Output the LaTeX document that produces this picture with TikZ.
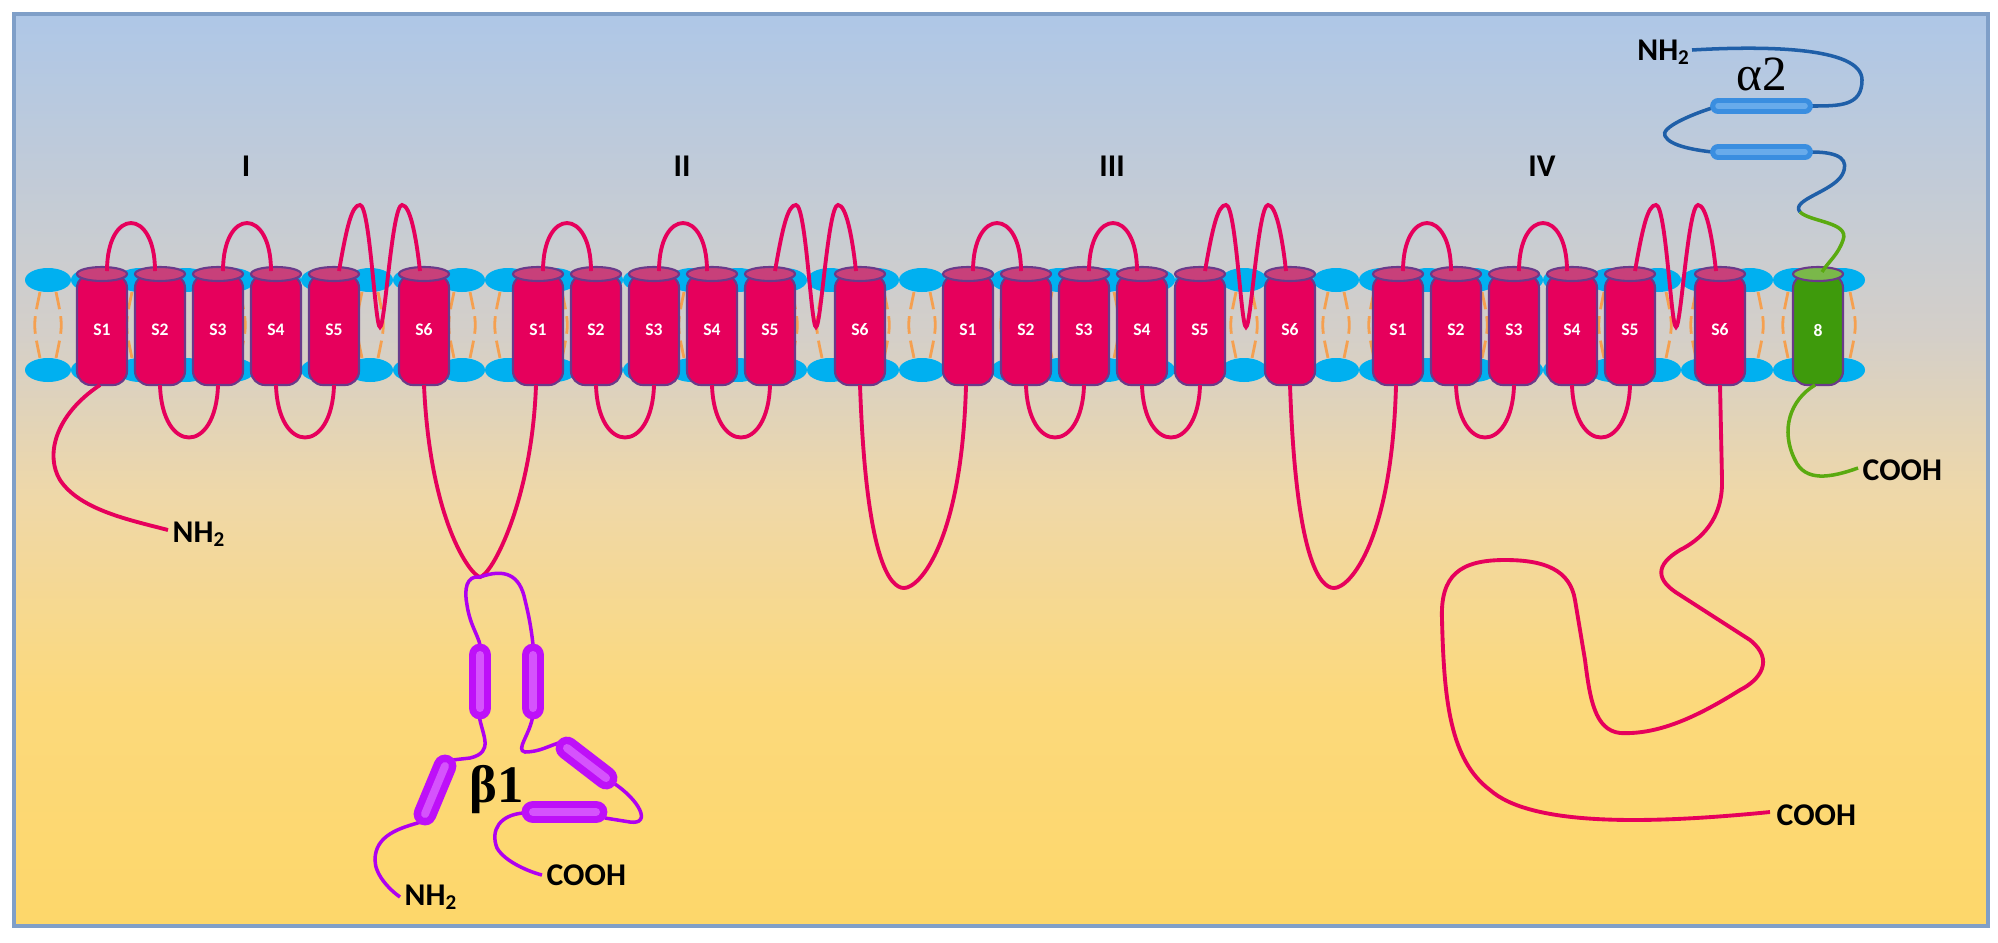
\documentclass[tikz,border=0pt]{standalone}
\usepackage{fontspec}
\newfontfamily\carl{Carlito}
\newfontfamily\grk{Liberation Serif}
\definecolor{bgbot}{HTML}{FDD76A}
\definecolor{bgb2}{HTML}{FCD97C}
\definecolor{bgm1}{HTML}{EFD8A8}
\definecolor{bgm2}{HTML}{D4CFC9}
\definecolor{bgtop}{HTML}{AEC7E7}
\definecolor{frm}{HTML}{7F9FC8}
\definecolor{mag}{HTML}{E6005C}
\definecolor{magcap}{HTML}{C8407A}
\definecolor{cylb}{HTML}{6A3A8A}
\definecolor{headc}{HTML}{00B0F0}
\definecolor{tailc}{HTML}{F5A050}
\definecolor{grn}{HTML}{3E9A0C}
\definecolor{grncap}{HTML}{7AB84A}
\definecolor{grnl}{HTML}{5AAA10}
\definecolor{blu}{HTML}{1F5FA8}
\definecolor{bluc}{HTML}{3A8EE0}
\definecolor{blul}{HTML}{7CB8F0}
\definecolor{pur}{HTML}{B000F0}
\definecolor{purc}{HTML}{BE10F8}
\definecolor{purl}{HTML}{E070FF}
\pgfdeclareverticalshading{bgsh}{100bp}{color(0bp)=(bgbot); color(25bp)=(bgbot); color(37.5bp)=(bgb2); color(48.5bp)=(bgm1); color(57.5bp)=(bgm2); color(75bp)=(bgtop); color(100bp)=(bgtop)}
\tikzset{
  chain/.style={draw=mag, line width=1.1pt},
  tailline/.style={draw=tailc, dashed, dash pattern=on 5pt off 2pt, line width=0.8pt},
  lbl/.style={text=white, font=\carl\bfseries\fontsize{5}{6}\selectfont},
  dom/.style={font=\carl\bfseries\fontsize{9}{10}\selectfont},
  term/.style={font=\carl\bfseries\fontsize{9}{10}\selectfont, inner sep=0pt},
  purl line/.style={draw=pur, line width=1pt},
  blue line/.style={draw=blu, line width=1pt},
  green line/.style={draw=grnl, line width=1pt},
}
\newcommand\cyl[4]{% x, label, fill, cap
  \draw[draw=cylb, fill=#3, line width=0.6pt, rounded corners=4] (#1-25,274) -- (#1-25,385) -- (#1+25,385) -- (#1+25,274) -- cycle;
  \draw[draw=cylb, fill=#4, line width=0.6pt] (#1,274) ellipse [x radius=25, y radius=7];
  \node[lbl] at (#1,330) {#2};}
\newcommand\capsule[5]{% from, to, fill, light, width
  \draw[#3, line width=#5, line cap=round] #1 -- #2;
  \draw[#4, line width=0.35*#5, line cap=round, opacity=0.7] #1 -- #2;}
\begin{document}
\begin{tikzpicture}[x=0.01cm,y=-0.01cm]
\useasboundingbox (0,0) rectangle (1998,942);
\shade[shading=bgsh] (14,14) rectangle (1988,926);
\draw[frm, line width=1.2pt] (14,14) rectangle (1988,926);
% lipid tails and heads
\foreach \x in {48,94,...,1870}{
  \draw[tailline] (\x-8,292) .. controls (\x-15,325) .. (\x-8,358);
  \draw[tailline] (\x+8,292) .. controls (\x+15,325) .. (\x+8,358);
}
\foreach \x in {48,94,...,1870}{
  \fill[headc] (\x,280) ellipse [x radius=23, y radius=12];
  \fill[headc] (\x,370) ellipse [x radius=23, y radius=12];
}
% domains
\foreach \o/\nm in {102/I,538/II,968/III,1398/IV}{
  \begin{scope}[shift={(\o,0)}]
    \cyl{0}{S1}{mag}{magcap}
    \cyl{58}{S2}{mag}{magcap}
    \cyl{116}{S3}{mag}{magcap}
    \cyl{174}{S4}{mag}{magcap}
    \cyl{232}{S5}{mag}{magcap}
    \cyl{322}{S6}{mag}{magcap}
    \draw[chain] (5,271) .. controls (5,207) and (53,207) .. (53,271);
    \draw[chain] (121,271) .. controls (121,207) and (169,207) .. (169,271);
    \draw[chain] (58,385) .. controls (60,455) and (114,455) .. (116,385);
    \draw[chain] (174,385) .. controls (176,455) and (230,455) .. (232,385);
    \draw[chain] (237,271) .. controls (245,225) and (250,205) .. (258,205)
      .. controls (268,205) and (273,327) .. (278,327)
      .. controls (283,327) and (290,205) .. (300,205)
      .. controls (308,205) and (314,235) .. (318,271);
    \node[dom] (d\nm) at (144,166) {\nm};
  \end{scope}
}
% green subunit
\cyl{1818}{8}{grn}{grncap}
% N-terminus domain I
\draw[chain] (100,385) .. controls (55,415) and (45,455) .. (60,480) .. controls (80,510) and (130,520) .. (168,530);
\node[term, anchor=west] (nh2a) at (172,534) {NH\textsubscript{2}};
% inter-domain linkers
\draw[chain] (424,385) .. controls (430,520) and (470,575) .. (480,577) .. controls (492,575) and (532,500) .. (536,385);
\draw[chain] (860,385) .. controls (866,560) and (890,588) .. (904,588) .. controls (920,588) and (962,540) .. (966,385);
\draw[chain] (1290,385) .. controls (1296,560) and (1320,588) .. (1334,588) .. controls (1350,588) and (1392,540) .. (1396,385);
% C-terminus domain IV
\draw[chain] (1720,385) -- (1722,480) .. controls (1723,520) and (1700,540) .. (1680,550) .. controls (1655,565) and (1655,580) .. (1680,595) -- (1750,640) .. controls (1775,660) and (1760,680) .. (1740,690) .. controls (1700,715) and (1660,735) .. (1620,733) .. controls (1595,730) and (1590,700) .. (1585,660) -- (1575,600) .. controls (1570,570) and (1545,560) .. (1505,560) .. controls (1460,560) and (1440,575) .. (1442,620) .. controls (1444,700) and (1450,760) .. (1490,790) .. controls (1530,825) and (1640,825) .. (1770,812);
\node[term, anchor=west] (coohIV) at (1776,815) {COOH};
% green C-term
\draw[green line] (1815,385) .. controls (1790,400) and (1780,430) .. (1795,460) .. controls (1805,482) and (1830,478) .. (1858,468);
\node[term, anchor=west] (cooh8) at (1862,470) {COOH};
% alpha2
\node[term] (nh2b) at (1664,52) {NH\textsubscript{2}};
\draw[blue line] (1692,50) .. controls (1760,46) and (1862,46) .. (1862,80) .. controls (1862,106) and (1840,106) .. (1812,106);
\draw[blue line] (1712,108) .. controls (1690,115) and (1660,128) .. (1665,136) .. controls (1670,146) and (1695,150) .. (1712,152);
\draw[blue line] (1812,152) .. controls (1840,152) and (1850,160) .. (1842,175) .. controls (1832,192) and (1790,200) .. (1800,212);
\draw[green line] (1800,212) .. controls (1810,222) and (1850,222) .. (1843,240) .. controls (1838,255) and (1828,262) .. (1822,272);
\capsule{(1718,106)}{(1805,106)}{bluc}{blul}{4.5pt}
\capsule{(1718,152)}{(1805,152)}{bluc}{blul}{4.5pt}
\node[font=\grk\fontsize{14}{15}\selectfont] (a2) at (1762,74) {α2};
% beta1
\draw[purl line] (480,577) .. controls (466,575) and (464,590) .. (467,605) .. controls (470,625) and (478,635) .. (480,645);
\draw[purl line] (480,577) .. controls (505,568) and (520,575) .. (525,600) .. controls (530,620) and (532,635) .. (533,645);
\draw[purl line] (479,715) .. controls (482,735) and (495,752) .. (470,758) -- (452,760);
\draw[purl line] (421,822) .. controls (400,828) and (375,835) .. (375,860) .. controls (375,875) and (390,890) .. (400,897);
\draw[purl line] (533,715) .. controls (530,735) and (515,750) .. (525,752) .. controls (540,752) and (550,745) .. (562,742);
\draw[purl line] (612,782) .. controls (640,800) and (652,825) .. (630,822) -- (605,818);
\draw[purl line] (523,813) .. controls (500,815) and (490,830) .. (497,848) .. controls (505,862) and (530,872) .. (542,875);
\capsule{(480,655)}{(480,708)}{purc}{purl}{6.5pt}
\capsule{(533,655)}{(533,708)}{purc}{purl}{6.5pt}
\capsule{(445,766)}{(425,814)}{purc}{purl}{6.5pt}
\capsule{(567,748)}{(606,778)}{purc}{purl}{6.5pt}
\capsule{(533,812)}{(596,812)}{purc}{purl}{6.5pt}
\node[font=\grk\bfseries\fontsize{15}{16}\selectfont] (b1) at (497,790) {β1};
\node[term, anchor=west] (nh2c) at (404,897) {NH\textsubscript{2}};
\node[term, anchor=west] (cooh1) at (546,875) {COOH};
\end{tikzpicture}
\end{document}
